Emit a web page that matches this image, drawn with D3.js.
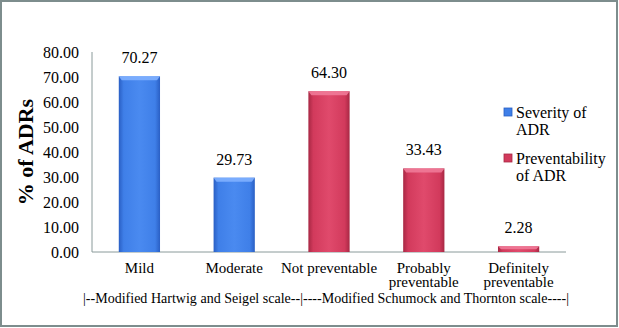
<!DOCTYPE html>
<html><head><meta charset="utf-8">
<script src="https://cdn.jsdelivr.net/npm/d3@7"></script>
<style>body{margin:0;background:#fff;}svg{display:block;}</style>
</head><body>
<svg id="c" width="619" height="328"></svg>
<script>
const categories = ["Mild","Moderate","Not preventable","Probably\npreventable","Definitely\npreventable"];
const values = [70.27, 29.73, 64.30, 33.43, 2.28];
const seriesOf = ["Severity of ADR","Severity of ADR","Preventability of ADR","Preventability of ADR","Preventability of ADR"];
const seriesNames = ["Severity of ADR","Preventability of ADR"];
const legendLines = [["Severity of","ADR"],["Preventability","of ADR"]];
const yTicks = [0,10,20,30,40,50,60,70,80];
const scaleNote = "|--Modified Hartwig and Seigel scale--|----Modified Schumock and Thornton scale----|";

const FONT = '"Liberation Serif"';
const svg = d3.select("#c");
svg.append("rect").attr("x",1).attr("y",1).attr("width",616).attr("height",325)
  .attr("fill","#fff").attr("stroke","#7d8d8d").attr("stroke-width",2);

const defs = svg.append("defs");
const cols = {"Severity of ADR":["#2a5fc4","#4a8af0","#3f7fe8"],"Preventability of ADR":["#a82844","#e04a6c","#d23a5c"]};
seriesNames.forEach((s,i)=>{
  const g = defs.append("linearGradient").attr("id","g"+i).attr("x1","0").attr("x2","1").attr("y1","0").attr("y2","0");
  const c = cols[s];
  g.append("stop").attr("offset","0").attr("stop-color",c[0]);
  g.append("stop").attr("offset","0.12").attr("stop-color",c[2]);
  g.append("stop").attr("offset","0.5").attr("stop-color",c[1]);
  g.append("stop").attr("offset","0.88").attr("stop-color",c[2]);
  g.append("stop").attr("offset","1").attr("stop-color",c[0]);
});

const x = d3.scaleBand().domain(categories).range([92,566]).paddingInner(0.565).paddingOuter(0.2825);
const y = d3.scaleLinear().domain([0,80]).range([252,52]);

svg.append("line").attr("x1",92).attr("x2",92).attr("y1",y(80)).attr("y2",y(0)).attr("stroke","#8a9a9a");
svg.append("line").attr("x1",92).attr("x2",566).attr("y1",y(0)).attr("y2",y(0)).attr("stroke","#8a9a9a");

svg.append("g").selectAll("text").data(yTicks).join("text")
  .attr("x",79).attr("y",d=>y(d)).attr("dy","0.35em").attr("text-anchor","end")
  .style("font-family",FONT).attr("font-size",16).attr("fill","#000")
  .text(d=>d3.format(".2f")(d));

const bars = svg.append("g");
categories.forEach((c,i)=>{
  const si = seriesNames.indexOf(seriesOf[i]);
  const bx = x(c), bw = x.bandwidth(), by = y(values[i]), bh = y(0)-y(values[i]);
  bars.append("rect").attr("x",bx).attr("y",by).attr("width",bw).attr("height",bh)
    .attr("fill","url(#g"+si+")");
  const tb = Math.min(4,bh/2);
  bars.append("path").attr("d",`M${bx},${by}L${bx+bw},${by}L${bx+bw-3},${by+tb}L${bx+3},${by+tb}Z`)
    .attr("fill",si===0?"#7fb0ff":"#f07a98").attr("opacity",0.9);
  bars.append("text").attr("x",bx+bw/2).attr("y",by-13).attr("text-anchor","middle")
    .style("font-family",FONT).attr("font-size",16).text(values[i].toFixed(2));
  const lines = c.split("\n");
  lines.forEach((l,j)=>{
    bars.append("text").attr("x",bx+bw/2).attr("y",273+j*14).attr("text-anchor","middle")
      .style("font-family",FONT).attr("font-size",15).text(l);
  });
});

svg.append("text").attr("x",83).attr("y",303)
  .style("font-family",FONT).attr("font-size",15).attr("textLength",486).attr("lengthAdjust","spacingAndGlyphs").text(scaleNote);

svg.append("text").attr("transform","translate(33,152) rotate(-90)").attr("text-anchor","middle")
  .style("font-family",FONT).attr("font-size",22).attr("font-weight","bold").text("% of ADRs");

seriesNames.forEach((s,i)=>{
  const ly = 113 + i*46;
  svg.append("rect").attr("x",504).attr("y",ly-5).attr("width",8).attr("height",8)
    .attr("fill",cols[s][2]).attr("stroke",cols[s][0]).attr("stroke-width",0.8);
  legendLines[i].forEach((t,j)=>{
    svg.append("text").attr("x",516).attr("y",ly+5+j*17)
      .style("font-family",FONT).attr("font-size",16).text(t);
  });
});
</script>
</body></html>
